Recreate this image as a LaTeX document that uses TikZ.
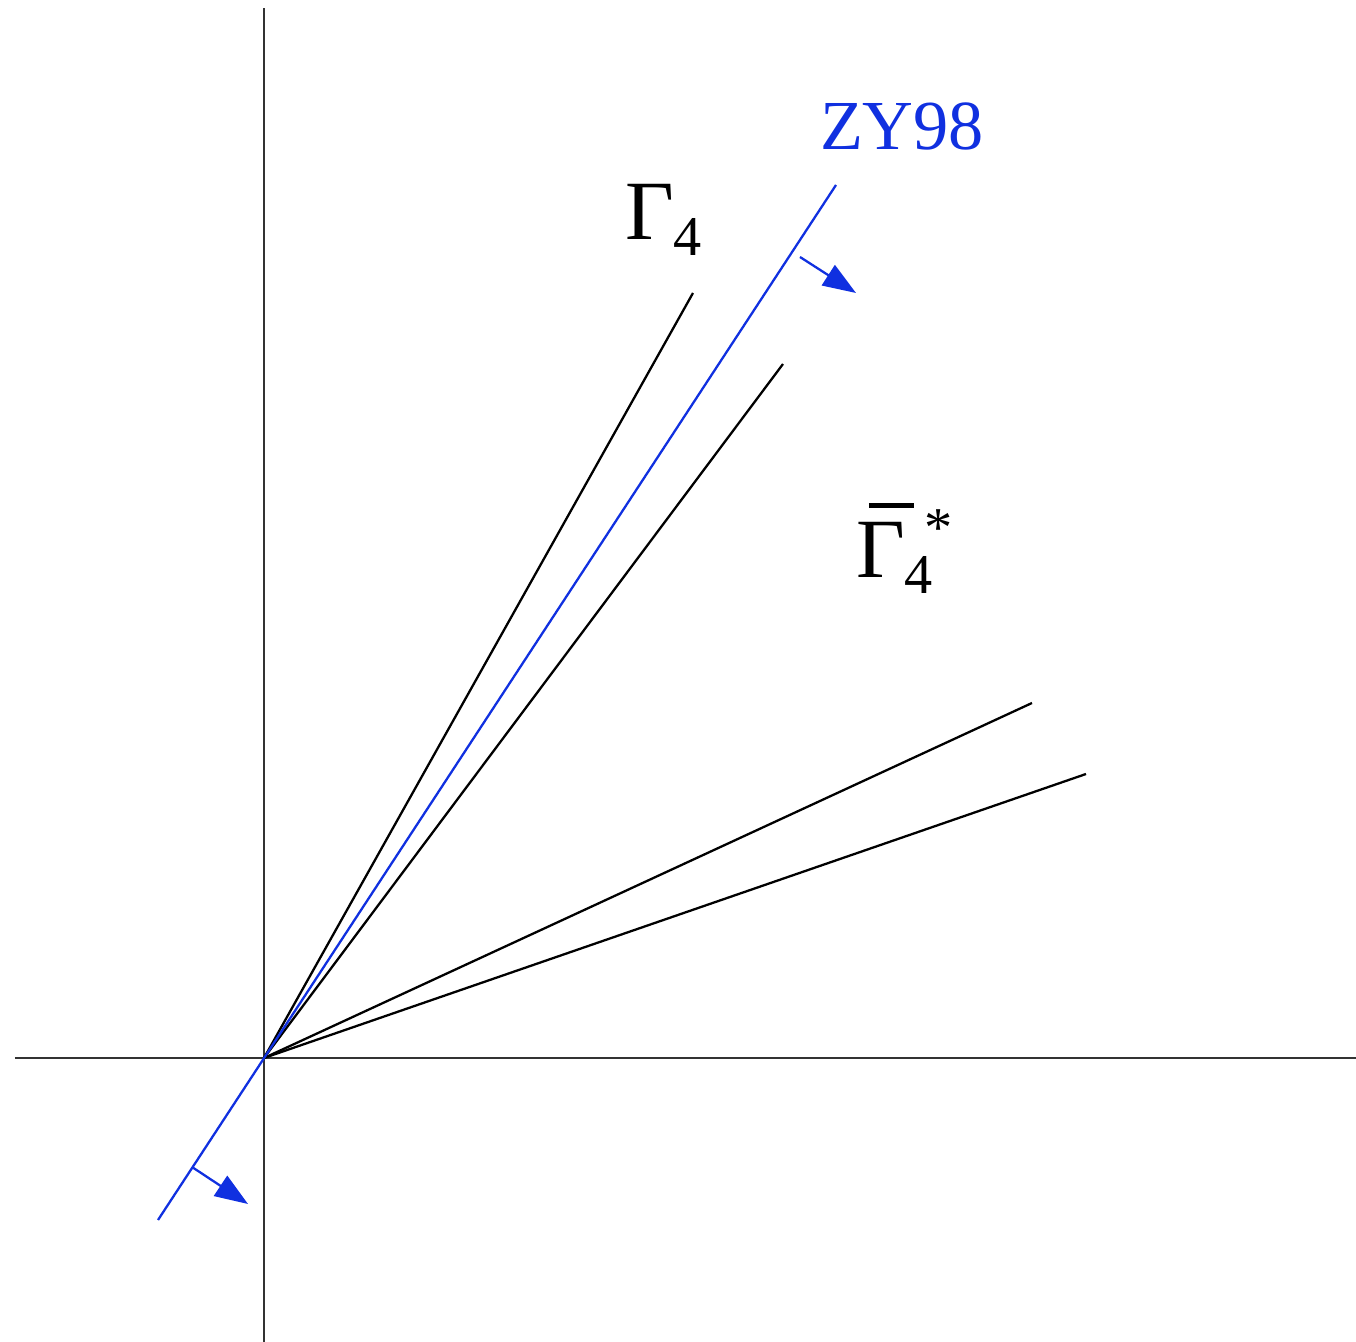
\documentclass[tikz,border=0pt]{standalone}
\usepackage{fontspec}
\setmainfont{Liberation Serif}
\usetikzlibrary{arrows.meta}
\definecolor{zyblue}{RGB}{16,48,224}
\begin{document}
\begin{tikzpicture}[line width=0.65pt]
    \useasboundingbox (-2.64,-2.84) rectangle (10.92,10.58);
    % Axes
    \coordinate (O) at (0,0);
    \coordinate (xl) at (-2.49,0);
    \coordinate (xr) at (10.92,0);
    \coordinate (yb) at (0,-2.84);
    \coordinate (yt) at (0,10.50);
    \draw[black!80] (xl) -- (xr);
    \draw[black!80] (yb) -- (yt);

    % Rays from the origin
    \coordinate (g4) at (4.29,7.65);
    \coordinate (ra) at (5.19,6.94);
    \coordinate (rb) at (7.68,3.55);
    \coordinate (rc) at (8.22,2.84);
    \draw (O) -- (g4);
    \draw (O) -- (ra);
    \draw (O) -- (rb);
    \draw (O) -- (rc);

    % ZY98 line and its arrows
    \coordinate (zyb) at (-1.06,-1.62);
    \coordinate (zyt) at (5.72,8.73);
    \draw[zyblue] (zyb) -- (zyt);
    \coordinate (au) at (5.36,8.01);
    \coordinate (aue) at (5.92,7.65);
    \coordinate (al) at (-0.72,-1.09);
    \coordinate (ale) at (-0.16,-1.46);
    \draw[zyblue, -{Triangle[length=0.33cm,width=0.24cm]}] (au) -- (aue);
    \draw[zyblue, -{Triangle[length=0.33cm,width=0.24cm]}] (al) -- (ale);

    % Labels
    \node[zyblue, anchor=base, inner sep=0, font=\fontsize{20}{24}\selectfont] (zylabel) at (6.38,9.08) {ZY98};
    \node[anchor=base west, inner sep=0] (gamlabel) at (3.60,8.18)
        {{\fontsize{24}{28}\selectfont Γ}\raisebox{-4.5pt}{\fontsize{16}{19}\selectfont 4}};
    \node[anchor=base west, inner sep=0] (gambarlabel) at (5.91,4.80)
        {\rlap{\kern3.6pt\raisebox{20pt}{\rule{12.8pt}{1.4pt}}}{\fontsize{24}{28}\selectfont Γ}\rlap{\raisebox{-4.5pt}{\fontsize{16}{19}\selectfont 4}}\kern5.6pt\raisebox{9pt}{\fontsize{16}{19}\selectfont *}};
\end{tikzpicture}
\end{document}
